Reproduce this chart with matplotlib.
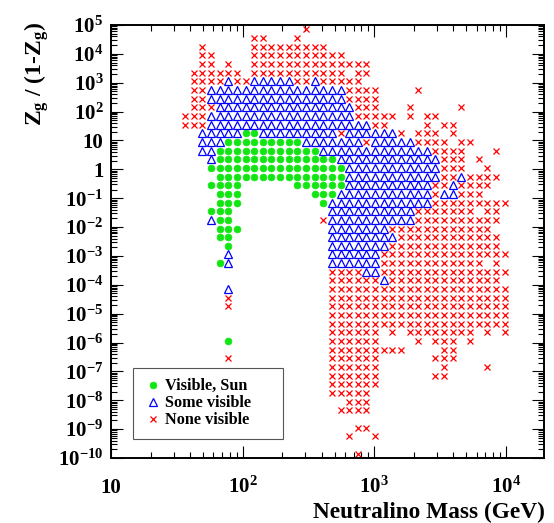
import numpy as np
import matplotlib
matplotlib.use("Agg")
import matplotlib.pyplot as plt
from matplotlib.ticker import LogLocator, FuncFormatter, NullFormatter

# Neutralino mass of each grid column (GeV)
mass_gev = [36.6, 42.6, 49.5, 57.6, 67.0, 77.9, 90.6, 105.4, 122.6, 142.5,
            165.8, 192.8, 224.3, 260.9, 303.4, 352.8, 410.4, 477.3, 555.2, 645.7,
            751.0, 873.4, 1016, 1181, 1374, 1598, 1858, 2161, 2514, 2924,
            3401, 3955, 4600, 5350, 6223, 7238, 8418, 9790]

# log10 of Zg/(1-Zg) for each grid row, top to bottom
ratio_log10 = [4.85, 4.55, 4.25, 3.95, 3.65, 3.35, 3.05, 2.75, 2.45, 2.15,
               1.85, 1.55, 1.25, 0.95, 0.65, 0.35, 0.05, -0.25, -0.55, -0.85,
               -1.15, -1.45, -1.75, -2.05, -2.35, -2.65, -2.95, -3.25, -3.55, -3.85,
               -4.15, -4.45, -4.75, -5.05, -5.35, -5.65, -5.95, -6.25, -6.55, -6.85,
               -7.15, -7.45, -7.75, -8.05, -8.35, -8.65, -8.95, -9.25, -9.55, -9.85]

# per row: o = visible (Sun), ^ = some visible, x = none visible; numbers are column ranges
grid_rows = [
    "x14",
    "x8-9 x13",
    "x2 x8-16",
    "x2-3 x8-18",
    "x2-3 x5 x8-21",
    "x1-6 x8-18 x20-21",
    "x1-4 ^5 x6-7 ^8-12 x13-14 ^15 x16-20",
    "x1-2 ^3-18 x19-22 x27",
    "x1-2 ^3-18 x19-22",
    "x1-3 ^4-19 x20-22 x26 x32",
    "x0-2 ^3-19 x20-24 x26 x28-29",
    "x0-2 ^3-21 x22-23 x28 x30-31",
    "^2-6 o7-8 ^9-17 x18 ^19-24 x25 x27-29 x31",
    "^2-4 o5-13 ^14-20 x21 ^22-26 x27-30 x32-33",
    "^2-3 o4-15 ^16-28 x29-32 x36",
    "^3 o4-17 ^18-29 x30-32 x34",
    "o3-18 ^19-29 x30-32 x35",
    "o4-18 ^19-29 x30-31 ^32 x33-36",
    "o3-6 o13-18 ^19-28 x29-30 ^31 x32-35",
    "o4-6 o15-17 ^18-28 x29 ^30-31 x32-34",
    "o4-6 o16 ^17-28 x29-37",
    "o3-5 ^17-26 x27-33 x35-36",
    "^3 o4-5 x16 ^17-26 x27-36",
    "o4-6 ^17-23 x24-35",
    "o4-5 ^17-24 x25-36",
    "o5 ^17-23 x24-36",
    "^5 ^17-22 x23-37",
    "o4 ^5 ^17-22 x23-34 x36",
    "x17-20 ^21-22 x23-37",
    "x17-22 ^23 x24-36",
    "^5 x17-37",
    "x5 x17-37",
    "x5 x17-37",
    "x17-37",
    "x17-37",
    "x17-22 x24 x26-33 x35 x37",
    "o5 x17-22 x27 x29-31 x33",
    "x17-25 x30-31",
    "x5 x17-22 x29-31",
    "x17-22 x30 x35",
    "x17-22 x29-30",
    "x17-22",
    "x17-21",
    "x19-21",
    "x18-21",
    "",
    "x20-21",
    "x19 x22",
    "",
    "x20",
]

series_keys = ["o", "^", "x"]
series_labels = ["Visible, Sun", "Some visible", "None visible"]

plt.rcParams.update({
    "font.family": "Liberation Serif",
    "font.weight": "bold",
    "axes.labelweight": "bold",
    "mathtext.fontset": "custom",
    "mathtext.rm": "Liberation Serif:bold",
    "mathtext.it": "Liberation Serif:bold",
    "mathtext.bf": "Liberation Serif:bold",
})


def points_of(kind):
    """Expand the row specs of one marker kind into (mass, ratio) lists."""
    xs, ys = [], []
    for row, spec in enumerate(grid_rows):
        for token in spec.split():
            if token[0] != kind:
                continue
            bounds = token[1:].split("-")
            for col in range(int(bounds[0]), int(bounds[-1]) + 1):
                xs.append(mass_gev[col])
                ys.append(10 ** ratio_log10[row])
    return xs, ys


def log_label(v, pos):
    k = int(round(np.log10(v)))
    if k == 0:
        return "1"
    if k == 1:
        return "10"
    return r"$10^{%d}$" % k


styles = {
    "o": dict(marker="o", ms=4.9, mfc="#12e612", mec="#12e612", mew=0.5),
    "^": dict(marker="^", ms=5.6, mfc="none", mec="#0000ff", mew=0.9),
    "x": dict(marker="x", ms=4.8, mec="#ff0000", mew=0.9),
}

fig = plt.figure(figsize=(5.54, 5.23), dpi=100)
ax = fig.add_axes([111 / 554, 1 - 458 / 523, 433 / 554, 433 / 523])

for key, label in zip(series_keys, series_labels):
    xs, ys = points_of(key)
    ax.plot(xs, ys, ls="none", label=label, **styles[key])

ax.set_xscale("log")
ax.set_yscale("log")
ax.set_xlim(10, 10 ** 4.291)
ax.set_ylim(1e-10, 1e5)

ax.set_xticks([10, 100, 1000, 10000])
ax.xaxis.set_minor_locator(LogLocator(base=10, subs=np.arange(2, 10), numticks=40))
ax.yaxis.set_major_locator(LogLocator(base=10, numticks=40))
ax.yaxis.set_minor_locator(LogLocator(base=10, subs=np.arange(2, 10), numticks=40))
ax.xaxis.set_major_formatter(FuncFormatter(log_label))
ax.yaxis.set_major_formatter(FuncFormatter(log_label))
ax.xaxis.set_minor_formatter(NullFormatter())
ax.yaxis.set_minor_formatter(NullFormatter())

ax.tick_params(which="both", direction="in", top=True, right=True, width=0.8)
ax.tick_params(which="major", length=8.6, labelsize=15)
ax.tick_params(which="minor", length=4.3)
ax.tick_params(axis="x", which="major", pad=25)
ax.tick_params(axis="y", which="major", pad=5.5)
for lab in ax.get_xticklabels():
    lab.set_verticalalignment("baseline")
for side in ax.spines.values():
    side.set_linewidth(1.4)

ax.set_xlabel("Neutralino Mass (GeV)", fontsize=16.8, loc="right")
ax.xaxis.set_label_coords(1.002, -0.102)
ax.set_ylabel(r"$Z_g$ / (1-$Z_g$)", fontsize=17, loc="top")
ax.yaxis.set_label_coords(-0.138, 1.007)

leg = ax.legend(loc="lower left", bbox_to_anchor=(22 / 433, 19 / 433, 150 / 433, 69 / 433),
                mode="expand", borderaxespad=0, fancybox=False, framealpha=1,
                edgecolor="#555555", fontsize=11.7, handlelength=1.15,
                handletextpad=0.15, borderpad=0.66, labelspacing=0.06)
leg.get_frame().set_linewidth(0.8)

fig.savefig("out.png", dpi=100)
plt.close(fig)
